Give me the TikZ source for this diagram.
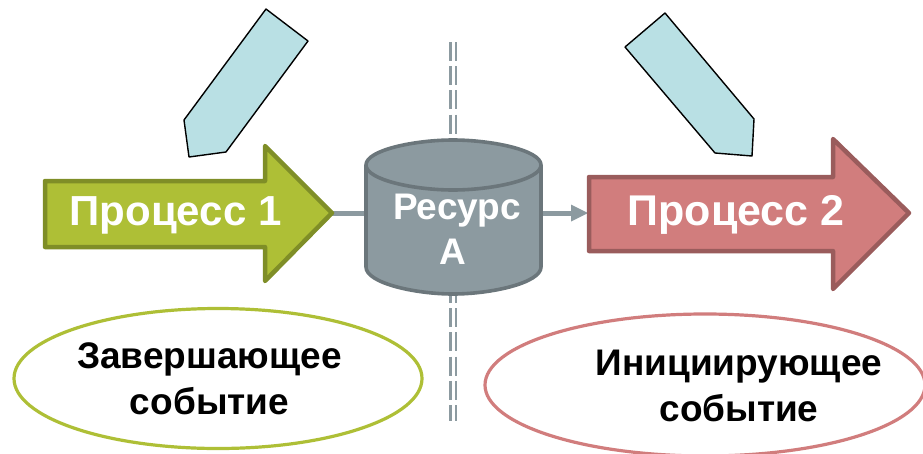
\documentclass[tikz,border=0pt]{standalone}
\usepackage{fontspec}
\setmainfont{Liberation Sans}
\definecolor{gfill}{HTML}{AEBF36}
\definecolor{gline}{HTML}{7F8E27}
\definecolor{rfill}{HTML}{D17D7D}
\definecolor{rline}{HTML}{9A5C5C}
\definecolor{cfill}{HTML}{8C9AA0}
\definecolor{cline}{HTML}{6B767B}
\definecolor{pen}{HTML}{B9E0E4}
\tikzset{
 penc/.style={draw=black,fill=pen,line width=1.4pt,line join=round},
 arr/.style={line width=4.5pt,line join=round},
 lab/.style={text=white,font=\bfseries\fontsize{42}{48}\selectfont,align=center},
 res/.style={text=white,font=\bfseries\fontsize{37}{45}\selectfont,align=center},
 ev/.style={text=black,font=\bfseries\fontsize{37}{46}\selectfont,align=center},
 ell/.style={fill=white,line width=3.2pt},
}
\begin{document}
\begin{tikzpicture}[x=1pt,y=-1pt]
\useasboundingbox (0,0) rectangle (923,453);
% divider
\foreach \xx in {450.5,456}
 \draw[cfill,line width=2.8pt,dash pattern=on 19pt off 5.2pt] (\xx,42) -- (\xx,421);
% connectors
\coordinate (c1) at (332,213);
\coordinate (c2) at (366,213);
\coordinate (c3) at (541,213);
\coordinate (c4) at (588,213);
\coordinate (c5) at (574,213);
\draw[cfill,line width=5pt] (c1) -- (c2);
\draw[cfill,line width=5pt] (c3) -- (c5);
\fill[cfill] (c4) -- (571,204.5) -- (571,221.5) -- cycle;
% pencils
\draw[penc] (266,9) -- (308,41) -- (226,152) -- (189,157) -- (184,120) -- cycle;
\draw[penc] (665,13) -- (754,119) -- (752,156) -- (715,153) -- (625,47) -- cycle;
% arrows
\draw[arr,draw=gline,fill=gfill] (45,181) -- (265,181) -- (265,146) -- (332,213) -- (265,281) -- (265,247) -- (45,247) -- cycle;
\draw[arr,draw=rline,fill=rfill] (589,177) -- (833,177) -- (833,139) -- (909,213) -- (833,289) -- (833,251) -- (589,251) -- cycle;
\node[lab] (p1) at (175.5,215) {Процесс 1};
\node[lab,font=\bfseries\fontsize{43}{48}\selectfont] (p2) at (736,215) {Процесс 2};
% cylinder
\draw[line width=3.6pt,draw=cline,fill=cfill,line join=round] (366,165) .. controls (366,150) and (415,140) .. (453,140) .. controls (491,140) and (541,150) .. (541,165) -- (541,267) .. controls (541,283) and (491,294) .. (453,294) .. controls (415,294) and (366,283) .. (366,267) -- cycle;
\draw[line width=3.6pt,draw=cline] (366,165) .. controls (366,180) and (415,190) .. (453,190) .. controls (491,190) and (541,180) .. (541,165);
\node[res] (r) at (457,229) {Ресурс\\\hspace*{-8pt}А};
% events
\draw[ell,draw=gfill] (218,378.5) ellipse (204 and 70);
\draw[ell,draw=rfill] (705,385) ellipse (220 and 71);
\node[ev] (e1) at (209.5,379) {Завершающее\\событие};
\node[ev] (e2) at (739,386) {Инициирующее\\событие};
\end{tikzpicture}
\end{document}
